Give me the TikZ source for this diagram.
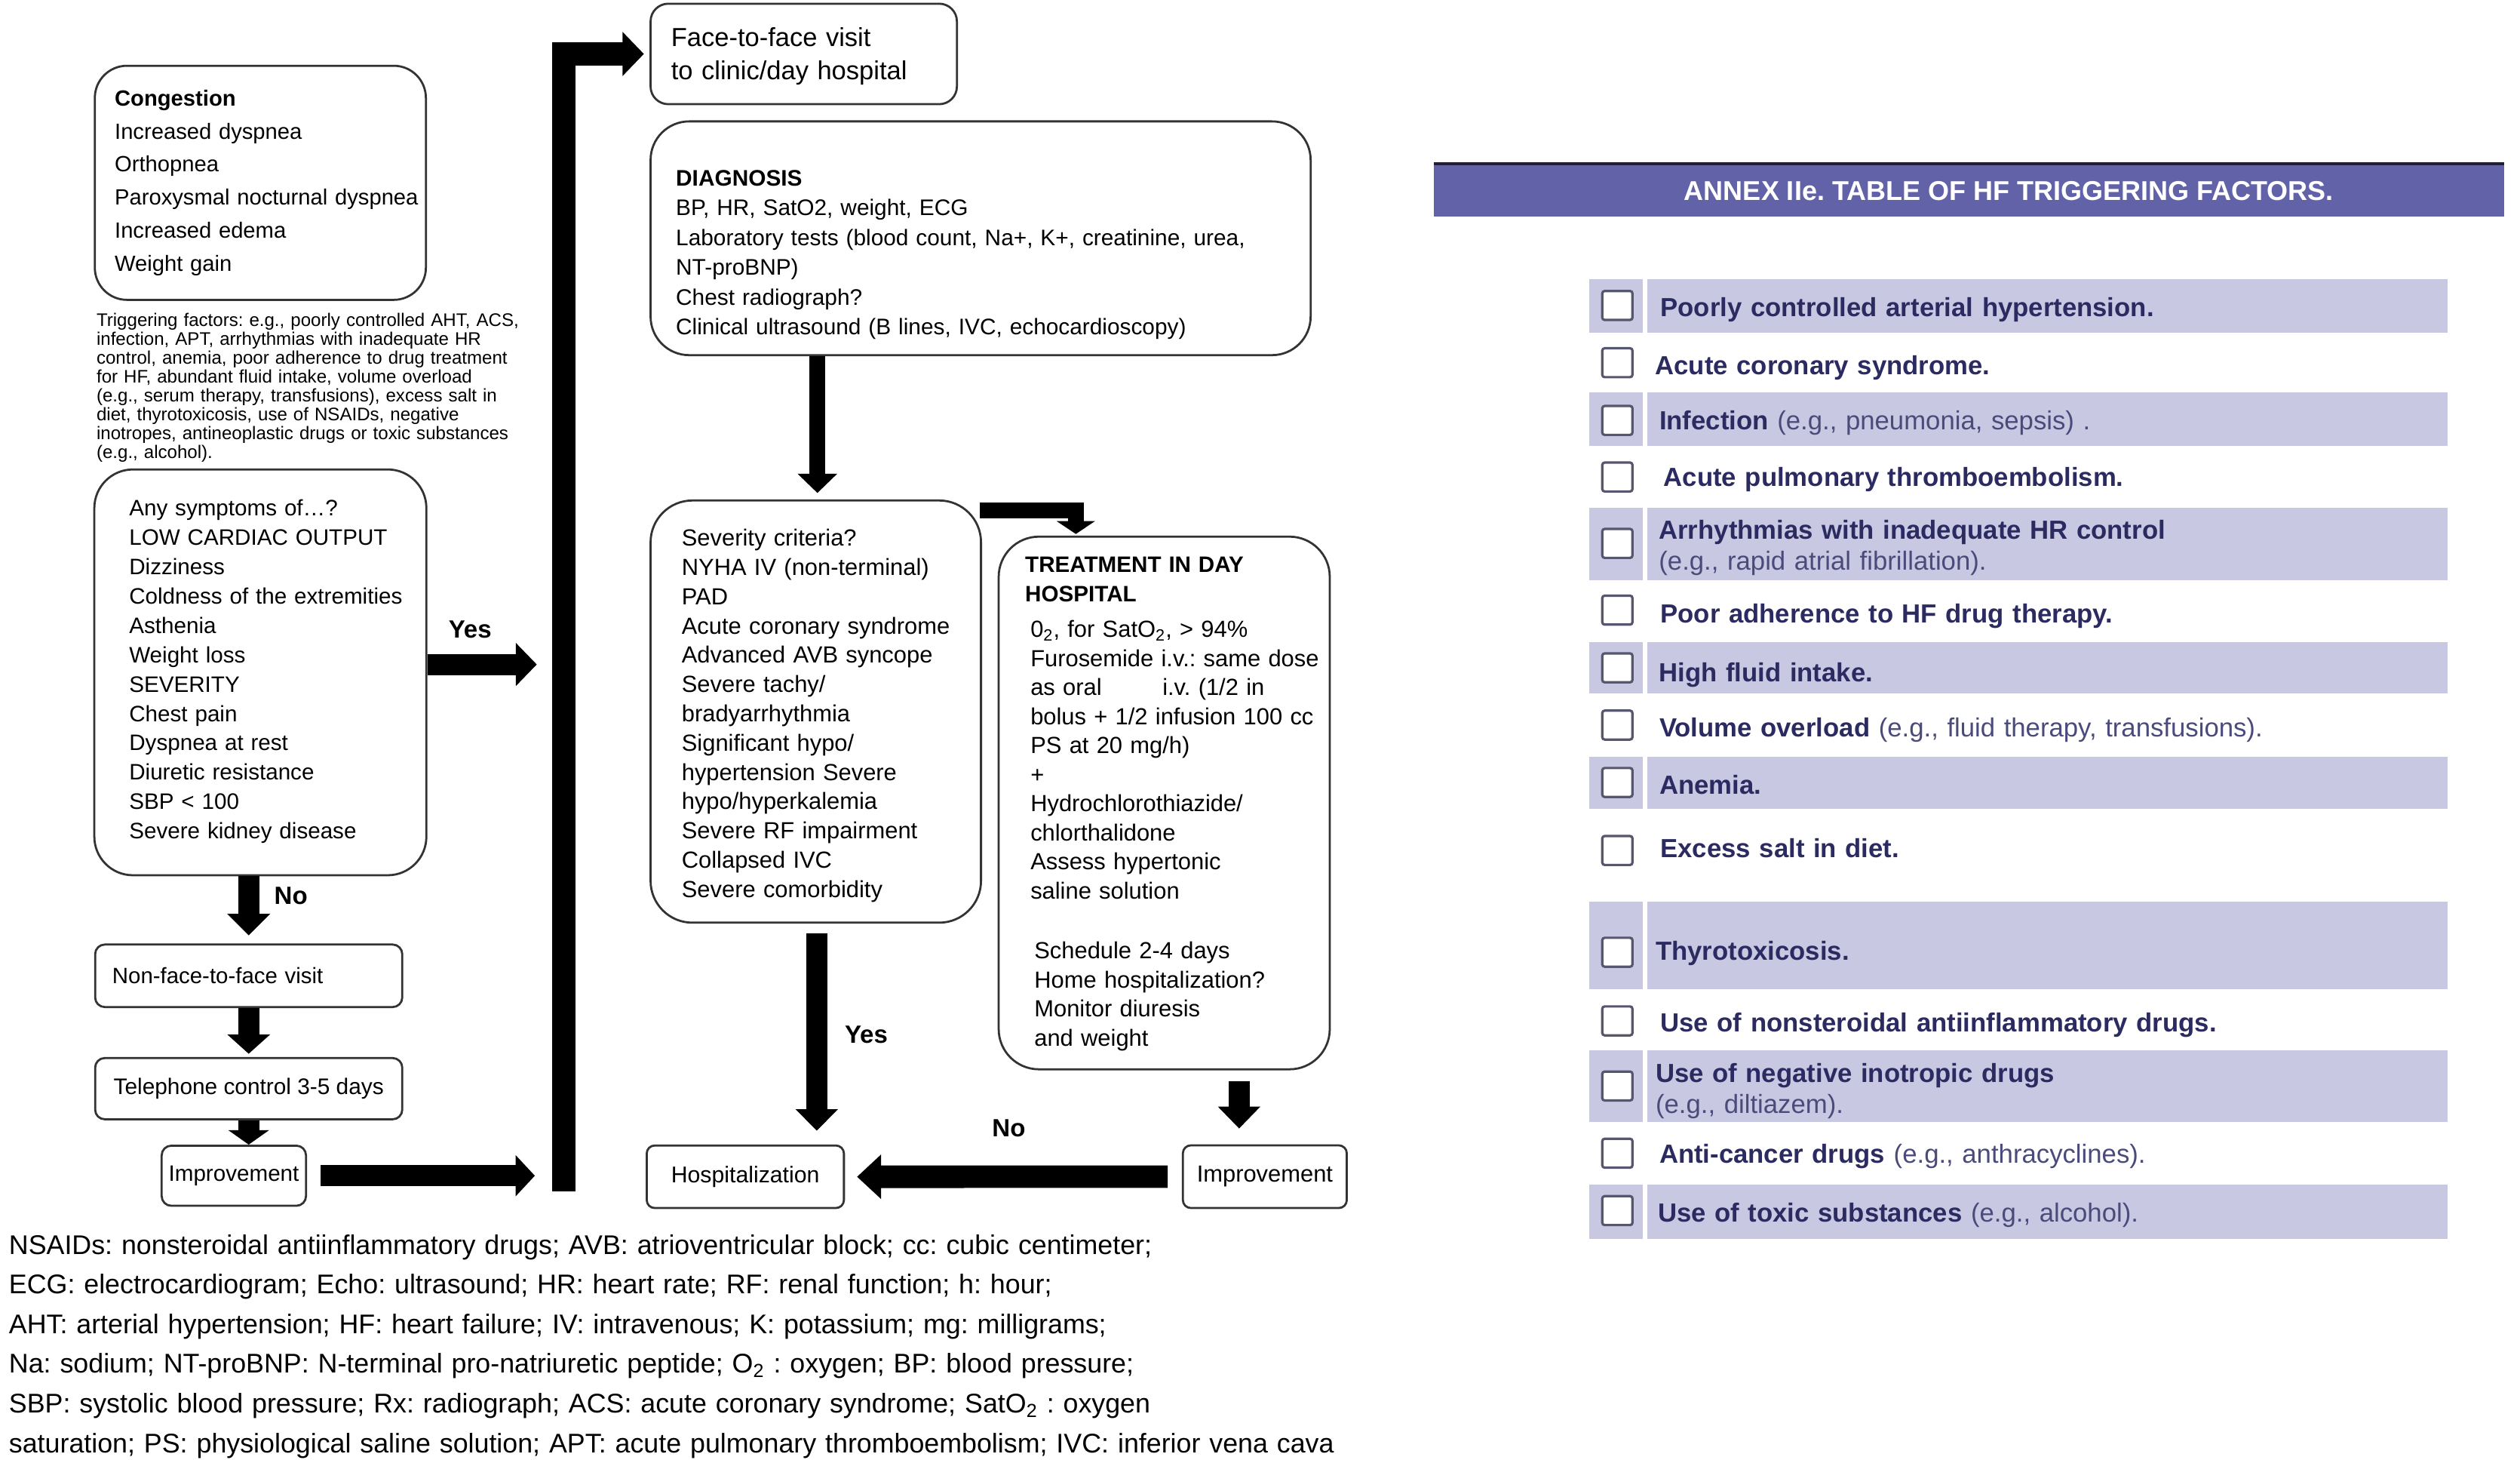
\documentclass[tikz,border=0pt]{standalone}
\usepackage{fontspec}
\setmainfont{Liberation Sans}
\usetikzlibrary{arrows.meta,calc}
\definecolor{boxline}{HTML}{333333}
\definecolor{hdrband}{HTML}{6262A8}
\definecolor{hdrbandtop}{HTML}{1E1E3C}
\definecolor{rowshade}{RGB}{200,200,226}
\definecolor{navy}{HTML}{2B2B62}
\definecolor{navylight}{HTML}{4B4B7B}
\definecolor{cbline}{HTML}{56566E}
\newcommand{\fsz}[2]{\fontsize{#1}{#2}\selectfont}
\tikzset{
  rbox/.style={draw=boxline, line width=1.3pt, fill=white, inner sep=0pt, rectangle},
  txt/.style={anchor=base west, inner sep=0pt, align=left, text width=#1},
  thickarr/.style={line width=#1, line join=miter, draw=black},
  lbl/.style={font=\bfseries\fsz{15.5}{18}, inner sep=0pt},
  cbox/.style={draw=cbline, line width=1.5pt, fill=white, minimum width=18.8pt, minimum height=18pt, rounded corners=1.5pt, inner sep=0pt},
  rowtxt/.style={anchor=base west, inner sep=0pt, align=left, text width=480pt, text=navy, font=\fsz{16.3}{19.2}}
}
\begin{document}
\frenchspacing
\begin{tikzpicture}[x=1pt,y=-1pt]
\useasboundingbox (0,0) rectangle (1568,908);
\fill[white] (0,0) rectangle (1568,908);

% ---------------- left column ----------------
\node[rbox, minimum width=206pt, minimum height=145.6pt, rounded corners=20pt] (cong) at (162,113.7) {};
\node[txt=250pt, font=\fsz{13.7}{20.6}] (congT) at (71.2,65.8)
  {\textbf{Congestion}\\Increased dyspnea\\Orthopnea\\Paroxysmal nocturnal dyspnea\\Increased edema\\Weight gain};

\node[txt=300pt, font=\fsz{11.3}{11.67}] (trig) at (59.9,203.2)
  {Triggering factors: e.g., poorly controlled AHT, ACS,\\
   infection, APT, arrhythmias with inadequate HR\\
   control, anemia, poor adherence to drug treatment\\
   for HF, abundant fluid intake, volume overload\\
   (e.g., serum therapy, transfusions), excess salt in\\
   diet, thyrotoxicosis, use of NSAIDs, negative\\
   inotropes, antineoplastic drugs or toxic substances\\
   (e.g., alcohol).};

\node[rbox, minimum width=206.6pt, minimum height=252.4pt, rounded corners=24pt] (symp) at (162,418.2) {};
\node[txt=250pt, font=\fsz{13.9}{18.24}] (sympT) at (80.2,321)
  {Any symptoms of…?\\LOW CARDIAC OUTPUT\\Dizziness\\Coldness of the extremities\\Asthenia\\Weight loss\\SEVERITY\\Chest pain\\Dyspnea at rest\\Diuretic resistance\\SBP < 100\\Severe kidney disease};

\node[rbox, minimum width=191.1pt, minimum height=38.9pt, rounded corners=6pt, text width=169.7pt, inner xsep=10.7pt, align=left, font=\fsz{13.8}{16}] (nonface) at (154.75,606.95) {Non-face-to-face visit};
\node[rbox, minimum width=191.1pt, minimum height=38.1pt, rounded corners=6pt, font=\fsz{14}{16}] (tel) at (154.75,677.15) {Telephone control 3-5 days};
\node[rbox, minimum width=89.8pt, minimum height=37.4pt, rounded corners=6pt, font=\fsz{13.9}{16}] (impL) at (145.5,731.3) {Improvement};

\coordinate (barbot) at (350.8,741);

% ---------------- middle column ----------------
\node[rbox, minimum width=190.6pt, minimum height=62.5pt, rounded corners=11pt] (face) at (500.1,33.55) {};
\node[txt=180pt, font=\fsz{16.2}{20.8}] (faceT) at (417.4,28.8) {Face-to-face visit\\to clinic/day hospital};

\node[rbox, minimum width=410.7pt, minimum height=145.4pt, rounded corners=24pt] (diag) at (610.15,148.2) {};
\node[txt=390pt, font=\fsz{14}{18.56}] (diagT) at (420.4,115.5)
  {\textbf{DIAGNOSIS}\\BP, HR, SatO2, weight, ECG\\Laboratory tests (blood count, Na+, K+, creatinine, urea,\\NT-proBNP)\\Chest radiograph?\\Clinical ultrasound (B lines, IVC, echocardioscopy)};

\node[rbox, minimum width=205.6pt, minimum height=262.6pt, rounded corners=26pt] (sev) at (507.6,442.6) {};
\node[txt=190pt, font=\fsz{14.5}{18.21}] (sevT) at (424,339.6)
  {Severity criteria?\\NYHA IV (non-terminal)\\PAD\\Acute coronary syndrome\\Advanced AVB syncope\\Severe tachy/\\bradyarrhythmia\\Significant hypo/\\hypertension Severe\\hypo/hyperkalemia\\Severe RF impairment\\Collapsed IVC\\Severe comorbidity};

\node[rbox, minimum width=206pt, minimum height=331.3pt, rounded corners=25pt] (treat) at (724.4,499.45) {};
\node[txt=190pt, font=\bfseries\fsz{13.9}{18.6}] (treatH) at (637.7,355.9) {TREATMENT IN DAY\\HOSPITAL};
\node[txt=190pt, font=\fsz{14.5}{18.07}] (treatB) at (641,396.4)
  {0\textsubscript{2}, for SatO\textsubscript{2}, > 94\%\\
   Furosemide i.v.: same dose\\
   as oral\hspace{33pt} i.v. (1/2 in\\
   bolus + 1/2 infusion 100 cc\\
   PS at 20 mg/h)\\
   +\\
   Hydrochlorothiazide/\\
   chlorthalidone\\
   Assess hypertonic\\
   saline solution};
\node[txt=190pt, font=\fsz{14.5}{18.1}] (treatS) at (643.4,596.4)
  {Schedule 2-4 days\\Home hospitalization?\\Monitor diuresis\\and weight};

\node[rbox, minimum width=122.7pt, minimum height=38.9pt, rounded corners=5pt, font=\fsz{14.2}{16}] (hosp) at (463.75,731.95) {Hospitalization};
\node[rbox, minimum width=102pt, minimum height=39pt, rounded corners=5pt, font=\fsz{14.5}{16}] (impR) at (787,731.9) {Improvement};

% ---------------- arrows ----------------
\draw[thickarr=13pt, -{Triangle[width=26pt,length=13.5pt]}] (nonface.north |- symp.south) -- ($(nonface.north)+(0,-5)$);
\draw[thickarr=13pt, -{Triangle[width=26pt,length=12pt]}] (nonface.south) -- ($(tel.north)+(0,-2)$);
\draw[thickarr=13pt, -{Triangle[width=25pt,length=9pt]}] (tel.south) -- (tel.south |- impL.north);
\draw[thickarr=13pt, -{Triangle[width=25pt,length=12pt]}] ($(impL.east)+(8.4,0)$) -- ($(barbot |- impL.east)+(-18,0)$);
\draw[thickarr=14.5pt, -{Triangle[width=26.7pt,length=13.3pt]}] (barbot) |- ($(face.west)+(-3.5,0)$);
\draw[thickarr=13.2pt, -{Triangle[width=26pt,length=13pt]}] ($(symp.east)+(0,-4.9)$) -- ($(barbot |- symp.east)+(-16.8,-4.9)$);
\draw[thickarr=10pt, -{Triangle[width=24pt,length=12pt]}] ($(diag.south -| sev.north)+(1,0)$) -- ($(sev.north)+(1,-4)$);
\draw[thickarr=10pt, -{Triangle[width=23.5pt,length=8pt]}] ($(sev.north east)+(-1.6,6.7)$) -| ($(treat.north)+(-55,-1)$);
\draw[thickarr=13pt, -{Triangle[width=25.5pt,length=13.4pt]}] ($(sev.south)+(0.6,6)$) -- ($(sev.south |- hosp.north)+(0.6,-8.5)$);
\draw[thickarr=13.4pt, -{Triangle[width=25.5pt,length=13.6pt]}] ($(treat.south -| impR.north)+(-16,6.6)$) -- ($(impR.north)+(-16,-9.8)$);
\draw[thickarr=14pt, -{Triangle[width=26.8pt,length=15pt]}] ($(impR.west)+(-8.8,0)$) -- ($(hosp.east)+(7.5,0)$);

\node[lbl] (yesL) at (292.5,391.7) {Yes};
\node[lbl] (noL) at (181,557) {No};
\node[lbl] (yesM) at (539,643.6) {Yes};
\node[lbl] (noR) at (627.7,701.6) {No};

% ---------------- legend ----------------
\node[txt=900pt, font=\fsz{16.8}{24.7}] (legend) at (5.4,780)
  {NSAIDs: nonsteroidal antiinflammatory drugs; AVB: atrioventricular block; cc: cubic centimeter;\\
   ECG: electrocardiogram; Echo: ultrasound; HR: heart rate; RF: renal function; h: hour;\\
   AHT: arterial hypertension; HF: heart failure; IV: intravenous; K: potassium; mg: milligrams;\\
   Na: sodium; NT-proBNP: N-terminal pro-natriuretic peptide; O\textsubscript{2} : oxygen; BP: blood pressure;\\
   SBP: systolic blood pressure; Rx: radiograph; ACS: acute coronary syndrome; SatO\textsubscript{2} : oxygen\\
   saturation; PS: physiological saline solution; APT: acute pulmonary thromboembolism; IVC: inferior vena cava};

% ---------------- table ----------------
\fill[hdrband] (892,101) rectangle (1558,134.7);
\fill[hdrbandtop] (892,101) rectangle (1558,102.8);
\node[inner sep=0pt, text=white, font=\bfseries\fsz{16.9}{20}] (head) at (1250,119) {ANNEX IIe. TABLE OF HF TRIGGERING FACTORS.};

\foreach \ya/\yb in {173.5/207, 244/277.2, 316/361, 399.5/431.5, 470.7/503.3, 561/615.2, 653.3/697.9, 737/770.4}{
  \fill[rowshade] (988.7,\ya) rectangle (1022,\yb);
  \fill[rowshade] (1025,\ya) rectangle (1523,\yb);
}

\foreach \i/\yc in {1/190, 2/225.6, 3/261.5, 4/296.7, 5/338, 6/379.5, 7/415.4, 8/451, 9/486.7, 10/529, 11/592.3, 12/635, 13/675.5, 14/717.3, 15/753}{
  \node[cbox] (cb\i) at (1006.35,\yc) {};
}

\node[rowtxt] (r1) at (1033,196.8) {\textbf{Poorly controlled arterial hypertension.}};
\node[rowtxt] (r2) at (1029.7,232.9) {\textbf{Acute coronary syndrome.}};
\node[rowtxt] (r3) at (1032.3,267.4) {\textbf{Infection} \textcolor{navylight}{(e.g., pneumonia, sepsis) .}};
\node[rowtxt] (r4) at (1035,302.4) {\textbf{Acute pulmonary thromboembolism.}};
\node[rowtxt] (r5) at (1032,335.4) {\textbf{Arrhythmias with inadequate HR control}\\\textcolor{navylight}{(e.g., rapid atrial fibrillation).}};
\node[rowtxt] (r6) at (1033,387.5) {\textbf{Poor adherence to HF drug therapy.}};
\node[rowtxt] (r7) at (1032,423.9) {\textbf{High fluid intake.}};
\node[rowtxt] (r8) at (1032.3,458.2) {\textbf{Volume overload} \textcolor{navylight}{(e.g., fluid therapy, transfusions).}};
\node[rowtxt] (r9) at (1032.3,493.9) {\textbf{Anemia.}};
\node[rowtxt] (r10) at (1033,533.3) {\textbf{Excess salt in diet.}};
\node[rowtxt] (r11) at (1030,597.3) {\textbf{Thyrotoxicosis.}};
\node[rowtxt] (r12) at (1033,641.9) {\textbf{Use of nonsteroidal antiinflammatory drugs.}};
\node[rowtxt] (r13) at (1030,673.3) {\textbf{Use of negative inotropic drugs}\\\textcolor{navylight}{(e.g., diltiazem).}};
\node[rowtxt] (r14) at (1032.3,723.5) {\textbf{Anti-cancer drugs} \textcolor{navylight}{(e.g., anthracyclines).}};
\node[rowtxt] (r15) at (1031.4,760.2) {\textbf{Use of toxic substances} \textcolor{navylight}{(e.g., alcohol).}};
\end{tikzpicture}
\end{document}
